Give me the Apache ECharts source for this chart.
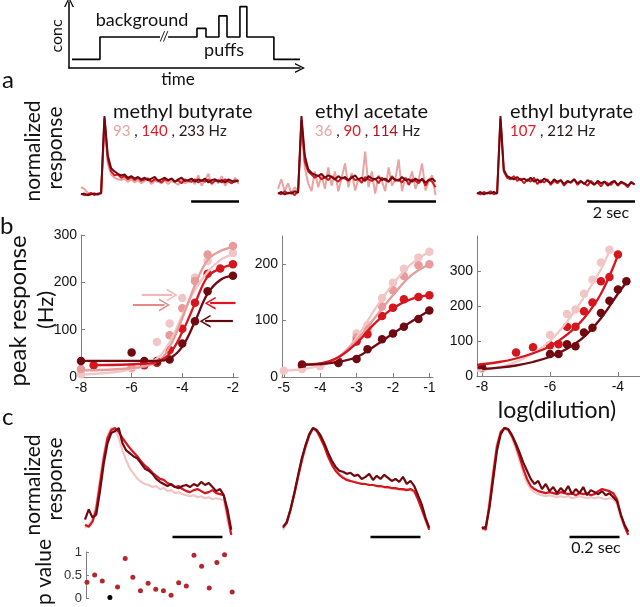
<!DOCTYPE html>
<html><head><meta charset="utf-8">
<script src="https://cdn.jsdelivr.net/npm/echarts@6/dist/echarts.min.js"></script>
<style>html,body{margin:0;padding:0;background:#fff}#c{width:640px;height:607px}</style>
</head><body><div id="c"></div>
<script>
// ---------- DATA ----------
// schematic (stimulus protocol)
const schemA_x = [1.3, 13.4, 13.4, 39.4];
const schemA_y = [0.13, 0.13, 0.47, 0.47];
const schemB_x = [42.9, 55.4, 55.4, 59.3, 59.3, 64.9, 64.9, 68.4, 68.4, 74, 74, 77, 77, 88.7, 88.7, 100];
const schemB_y = [0.47, 0.47, 0.6, 0.6, 0.47, 0.47, 0.79, 0.79, 0.47, 0.47, 0.93, 0.93, 0.47, 0.47, 0.13, 0.13];

// panel a: normalized responses (sample step 0.14 s)
const dtA = 0.14;
const a1_pale = [0.1,0.08,0.03,0.01,0.02,0,0.04,0.9,0.4,0.26,0.22,0.2,0.19,0.21,0.17,0.2,0.16,0.19,0.15,0.18,0.2,0.14,0.18,0.17,0.15,0.19,0.14,0.18,0.16,0.13,0.19,0.15,0.17,0.2,0.14,0.25,0.12,0.19,0.27,0.13,0.2,0.15,0.24,0.12,0.18,0.16,0.22,0.14];
const a1_red = [0.02,0,0.01,0.03,0,0.02,0.02,0.97,0.45,0.3,0.25,0.26,0.22,0.24,0.2,0.23,0.19,0.22,0.18,0.2,0.21,0.17,0.2,0.19,0.16,0.2,0.18,0.21,0.17,0.19,0.15,0.2,0.18,0.17,0.2,0.16,0.19,0.17,0.2,0.15,0.18,0.19,0.16,0.2,0.17,0.15,0.19,0.17];
const a1_dark = [0.01,0.02,0,0.01,0.02,0.01,0.03,1.0,0.5,0.34,0.3,0.27,0.25,0.26,0.22,0.24,0.21,0.23,0.2,0.22,0.19,0.21,0.23,0.18,0.2,0.22,0.19,0.21,0.17,0.2,0.22,0.18,0.19,0.21,0.17,0.2,0.18,0.21,0.16,0.19,0.2,0.17,0.19,0.16,0.2,0.18,0.17,0.19];
const a2_pale = [0.08,0.2,0.05,0.15,0.02,0.1,0.05,0.85,0.35,0.15,0.05,0.3,0.1,0.25,0.08,0.35,0.12,0.3,0.05,0.22,0.4,0.1,0.28,0.06,0.2,0.15,0.55,0.1,0.3,0.02,0.25,0.18,0.05,0.35,0.12,0.2,0.45,0.05,0.22,0.15,0.3,0.08,0.2,0.4,0.06,0.18,0.25,0];
const a2_red = [0.03,0.01,0.05,0.02,0.04,0,0.06,0.95,0.42,0.3,0.26,0.22,0.25,0.2,0.23,0.19,0.24,0.2,0.17,0.22,0.21,0.18,0.24,0.19,0.2,0.16,0.23,0.2,0.18,0.21,0.15,0.22,0.19,0.17,0.24,0.18,0.2,0.16,0.22,0.13,0.2,0.18,0.15,0.21,0.12,0.2,0.17,0.1];
const a2_dark = [0.02,0.04,0.01,0.03,0.02,0.05,0.03,1.0,0.5,0.33,0.28,0.26,0.24,0.27,0.22,0.25,0.23,0.2,0.24,0.21,0.23,0.19,0.22,0.25,0.2,0.22,0.18,0.24,0.21,0.2,0.23,0.19,0.21,0.17,0.22,0.2,0.18,0.23,0.19,0.2,0.17,0.21,0.18,0.2,0.16,0.19,0.21,0.17];
const a3_red = [0.03,0.01,0.04,0.02,0.05,0.01,0.03,0.96,0.3,0.22,0.2,0.24,0.18,0.21,0.15,0.2,0.17,0.22,0.14,0.19,0.16,0.2,0.13,0.18,0.15,0.19,0.12,0.17,0.16,0.2,0.13,0.17,0.15,0.12,0.18,0.14,0.16,0.11,0.17,0.15,0.13,0.18,0.12,0.16,0.14,0.1,0.17,0.13];
const a3_dark = [0.02,0.04,0.01,0.03,0.02,0.04,0.02,1.0,0.32,0.24,0.22,0.2,0.23,0.19,0.21,0.18,0.22,0.17,0.2,0.16,0.21,0.18,0.15,0.2,0.17,0.19,0.14,0.18,0.16,0.2,0.15,0.18,0.14,0.19,0.16,0.13,0.18,0.15,0.17,0.12,0.16,0.18,0.13,0.17,0.15,0.12,0.16,0.14];
const scaleBarA = [4.6, 6.6];   // 2 sec

// panel b: dose-response (x = log dilution, y = peak response Hz)
const b1_pale_x = [-8,-6,-5,-4.5,-4,-3.5,-3,-2];
const b1_pale_y = [6,18,74,113,167,210,245,262];
const b1_pink_x = [-8,-6,-5,-4.5,-4,-3.5,-3,-2];
const b1_pink_y = [17,20,30,88,145,203,259,277];
const b1_red_x = [-7.5,-5.5,-5,-4.5,-4,-3.5,-3,-2.5,-2];
const b1_red_y = [25,25,30,57,102,157,218,229,238];
const b1_dark_x = [-8,-6,-5.5,-5,-4.5,-4,-3.5,-3,-2];
const b1_dark_y = [34,52,34,34,37,71,118,181,214];
const b1fit_pale_x = [-8,-6,-5,-4.5,-4,-3.5,-3,-2.5,-2];
const b1fit_pale_y = [5,16,39,74,130,184,222,247,259];
const b1fit_pink_x = [-8,-6,-5,-4.5,-4,-3.5,-3,-2.5,-2];
const b1fit_pink_y = [14,19,32,64,124,194,247,266,275];
const b1fit_red_x = [-7.5,-5.5,-5,-4.5,-4,-3.5,-3,-2.5,-2];
const b1fit_red_y = [25,28,32,49,95,155,212,229,238];
const b1fit_dark_x = [-8,-6,-5,-4.5,-4,-3.5,-3,-2.5,-2];
const b1fit_dark_y = [34,34,34,39,64,117,176,205,214];

const b2_pale_x = [-5,-4.5,-4,-3,-2.7,-2.3,-2,-1.7,-1.3,-1];
const b2_pale_y = [11,14,19,77,92,140,167,192,212,222];
const b2_pink_x = [-3,-2.7,-2.3,-2,-1.7,-1.3,-1];
const b2_pink_y = [70,85,125,154,179,198,200];
const b2_red_x = [-4.5,-3.5,-3,-2.7,-2.3,-2,-1.7,-1.3,-1];
const b2_red_y = [20,28,63,76,108,123,138,142,145];
const b2_dark_x = [-4.5,-3.5,-3,-2.7,-2.3,-2,-1.7,-1.3,-1];
const b2_dark_y = [22,25,32,49,67,77,89,103,118];
const b2fit_pale_x = [-5,-4.5,-4,-3.5,-3,-2.5,-2,-1.5,-1];
const b2fit_pale_y = [11,14,20,35,70,120,165,200,222];
const b2fit_pink_x = [-4,-3.5,-3,-2.5,-2,-1.5,-1];
const b2fit_pink_y = [20,35,65,105,145,180,200];
const b2fit_red_x = [-4.5,-4,-3.5,-3,-2.5,-2,-1.5,-1];
const b2fit_red_y = [22,24,35,60,95,122,138,145];
const b2fit_dark_x = [-4.5,-4,-3.5,-3,-2.5,-2,-1.5,-1];
const b2fit_dark_y = [22,23,27,35,55,77,98,118];

const b3_pale_x = [-8,-6,-5.5,-5.25,-5,-4.75,-4.5,-4.25];
const b3_pale_y = [20,117,177,190,235,275,324,361];
const b3_red_x = [-7,-6.5,-6,-5.75,-5.5,-5.25,-5,-4.75,-4.5,-4.25,-4];
const b3_red_y = [67,82,88,91,141,141,185,210,271,283,347];
const b3_dark_x = [-8,-6,-5.75,-5.5,-5.25,-5,-4.75,-4.5,-4.25,-4,-3.75];
const b3_dark_y = [25,63,63,91,85,124,138,180,215,247,271];
const b3fit_pale_x = [-8.15,-7.5,-7,-6.5,-6,-5.5,-5,-4.5,-4.25];
const b3fit_pale_y = [15,25,40,65,100,155,225,305,358];
const b3fit_red_x = [-8.15,-7.5,-7,-6.5,-6,-5.5,-5,-4.5,-4];
const b3fit_red_y = [32,40,50,65,85,118,165,235,345];
const b3fit_dark_x = [-8,-7.5,-7,-6.5,-6,-5.5,-5,-4.5,-4,-3.75];
const b3fit_dark_y = [20,24,30,40,55,78,112,165,235,268];

// arrows in panel b1 (log dilution, Hz)
const arrowPale = [-5.6, -4.4, 173];
const arrowPink = [-5.95, -4.7, 152];
const arrowRed = [-1.9, -2.9, 156];
const arrowDark = [-2.0, -3.1, 118];

// panel c: normalized response shapes (sample step 0.015 s)
const dtC = 0.015;
const c1_pale = [0.02,0.05,0.1,0.25,0.5,0.75,0.92,1.0,0.98,0.9,0.78,0.68,0.6,0.55,0.5,0.47,0.45,0.44,0.42,0.43,0.4,0.41,0.38,0.39,0.36,0.37,0.35,0.34,0.33,0.34,0.32,0.33,0.31,0.32,0.3,0.31,0.3,0.29,0.1,-0.05];
const c1_red = [0.05,0.03,0.08,0.2,0.45,0.7,0.9,0.98,1.0,0.96,0.9,0.85,0.8,0.76,0.72,0.67,0.63,0.6,0.56,0.53,0.5,0.49,0.46,0.44,0.42,0.43,0.4,0.38,0.37,0.39,0.4,0.38,0.36,0.37,0.39,0.36,0.35,0.34,0.15,-0.05];
const c1_dark = [0.1,0.2,0.12,0.15,0.38,0.65,0.85,0.95,0.97,1.0,0.85,0.78,0.75,0.72,0.7,0.65,0.6,0.58,0.55,0.5,0.47,0.45,0.43,0.45,0.42,0.41,0.43,0.44,0.42,0.45,0.43,0.47,0.44,0.46,0.42,0.38,0.4,0.34,0.2,0.0];
const c2_pale = [0.0,0.06,0.18,0.34,0.5,0.67,0.8,0.92,0.99,0.98,0.92,0.84,0.75,0.66,0.6,0.55,0.52,0.5,0.48,0.47,0.46,0.46,0.45,0.44,0.44,0.43,0.42,0.42,0.41,0.41,0.4,0.4,0.39,0.4,0.39,0.37,0.3,0.21,0.1,0.02];
const c2_red = [0.02,0.08,0.2,0.35,0.52,0.68,0.82,0.93,1.0,0.97,0.9,0.82,0.72,0.64,0.58,0.54,0.51,0.49,0.48,0.47,0.46,0.45,0.45,0.44,0.44,0.43,0.43,0.42,0.42,0.41,0.41,0.4,0.4,0.39,0.4,0.38,0.3,0.2,0.1,0.0];
const c2_dark = [0.03,0.07,0.2,0.36,0.53,0.7,0.83,0.94,1.0,0.98,0.93,0.85,0.76,0.68,0.62,0.58,0.57,0.55,0.56,0.53,0.54,0.5,0.52,0.55,0.49,0.53,0.5,0.54,0.51,0.48,0.5,0.47,0.52,0.45,0.48,0.43,0.34,0.25,0.12,0.02];
const c3_pale = [0.0,0.02,0.3,0.6,0.85,0.97,1.0,0.98,0.9,0.8,0.68,0.56,0.46,0.4,0.37,0.35,0.34,0.33,0.34,0.33,0.32,0.33,0.32,0.33,0.31,0.32,0.33,0.32,0.31,0.32,0.31,0.32,0.31,0.3,0.31,0.3,0.25,0.12,0.02,-0.05];
const c3_red = [0.03,0.0,0.25,0.55,0.82,0.96,1.0,0.98,0.92,0.83,0.72,0.6,0.5,0.43,0.4,0.38,0.37,0.36,0.37,0.36,0.35,0.37,0.36,0.35,0.36,0.34,0.36,0.35,0.36,0.34,0.35,0.38,0.4,0.39,0.38,0.36,0.3,0.15,0.04,-0.05];
const c3_dark = [0.01,0.03,0.22,0.5,0.78,0.94,1.0,0.99,0.93,0.85,0.76,0.66,0.58,0.5,0.45,0.48,0.4,0.45,0.38,0.42,0.36,0.41,0.37,0.43,0.35,0.4,0.36,0.42,0.34,0.39,0.37,0.35,0.38,0.34,0.36,0.32,0.28,0.15,0.05,-0.02];
const scaleBarC = [0.35, 0.55]; // 0.2 sec

// p values
const pValues = [0.34,0.5,0.37,0.01,0.24,0.86,0.45,0.16,0.32,0.19,0.16,0.06,0.33,0.26,0.93,0.69,0.22,0.77,0.94,0.13];

// ---------- STYLE ----------
const PALE='#f2c6c6', PINK='#e79b9b', RED='#d6161e', DARK='#700a10', APALE='#e9a3a3';
const TXT='Lato', NUM='Liberation Sans';
const CHEV='path://M5,0 L10,10 L8.6,10 L5,2.6 L1.4,10 L0,10 Z';

const grids=[], xAxes=[], yAxes=[], series=[];
function addGrid(g, xa, ya){ const n=grids.length; grids.push(g); xAxes.push(Object.assign({gridIndex:n},xa)); yAxes.push(Object.assign({gridIndex:n},ya)); return n; }
const hid=(min,max)=>({type:'value',show:false,min,max});
const zip=(xs,ys)=>xs.map((x,i)=>[x,ys[i]]);
const tser=(arr,dt)=>arr.map((v,i)=>[+(i*dt).toFixed(4),v]);

// schematic
const g0 = addGrid({left:69,top:2,width:231,height:66},
  {type:'value',min:0,max:100,axisLine:{show:true,onZero:false,symbol:['none',CHEV],symbolSize:[10,10],lineStyle:{color:'#000',width:1.5}},axisTick:{show:false},axisLabel:{show:false},splitLine:{show:false}},
  {type:'value',min:0,max:1,axisLine:{show:true,onZero:false,symbol:['none',CHEV],symbolSize:[10,10],lineStyle:{color:'#000',width:1.5}},axisTick:{show:false},axisLabel:{show:false},splitLine:{show:false}});
[[schemA_x,schemA_y],[schemB_x,schemB_y]].forEach(([xs,ys])=>series.push({type:'line',xAxisIndex:g0,yAxisIndex:g0,data:zip(xs,ys),showSymbol:false,lineStyle:{color:'#000',width:1.6},silent:true}));

// panel a
const aLefts=[81,278,477];
const aTraces=[[[a1_pale,APALE],[a1_red,RED],[a1_dark,DARK]],[[a2_pale,APALE],[a2_red,RED],[a2_dark,DARK]],[[a3_red,RED],[a3_dark,DARK]]];
aLefts.forEach((L,k)=>{
  const g=addGrid({left:L,top:116,width:158,height:95},hid(0,6.6),hid(-0.2,1.0));
  aTraces[k].forEach(([arr,col])=>series.push({type:'line',xAxisIndex:g,yAxisIndex:g,data:tser(arr,dtA),showSymbol:false,lineStyle:{color:col,width:2},silent:true}));
  series.push({type:'line',xAxisIndex:g,yAxisIndex:g,data:[[scaleBarA[0],-0.08],[scaleBarA[1],-0.08]],showSymbol:false,lineStyle:{color:'#000',width:2.5},silent:true});
});

// panel b
function bAxes(xmin,xmax,xt,ymin,ymax,yt){
  const ax={color:'#7f7f7f',width:1};
  return [
    {type:'value',min:xmin,max:xmax,axisLine:{show:true,onZero:false,lineStyle:ax},axisTick:{show:true,inside:true,length:4,customValues:xt,lineStyle:ax},axisLabel:{customValues:xt,fontFamily:NUM,fontSize:14,color:'#111',margin:4},splitLine:{show:false}},
    {type:'value',min:ymin,max:ymax,axisLine:{show:true,onZero:false,lineStyle:ax},axisTick:{show:true,inside:true,length:4,customValues:yt,lineStyle:ax},axisLabel:{customValues:yt,fontFamily:NUM,fontSize:14,color:'#111',margin:4},splitLine:{show:false}}
  ];
}
function bCurves(g,list){
  list.forEach(([fx,fy,px,py,col])=>{
    series.push({type:'line',xAxisIndex:g,yAxisIndex:g,data:zip(fx,fy),smooth:0.4,showSymbol:false,lineStyle:{color:col,width:2.3},silent:true});
  });
  list.forEach(([fx,fy,px,py,col])=>{
    series.push({type:'scatter',xAxisIndex:g,yAxisIndex:g,data:zip(px,py),symbolSize:8.5,itemStyle:{color:col,opacity:1},silent:true});
  });
}
let ax=bAxes(-8,-1.8,[-8,-6,-4,-2],0,300,[0,100,200,300]);
const gb1=addGrid({left:81,top:235,width:157,height:142},ax[0],ax[1]);
bCurves(gb1,[[b1fit_pale_x,b1fit_pale_y,b1_pale_x,b1_pale_y,PALE],[b1fit_pink_x,b1fit_pink_y,b1_pink_x,b1_pink_y,PINK],[b1fit_red_x,b1fit_red_y,b1_red_x,b1_red_y,RED],[b1fit_dark_x,b1fit_dark_y,b1_dark_x,b1_dark_y,DARK]]);
function arrowML(a,col){ return [{coord:[a[0],a[2]],lineStyle:{color:col}},{coord:[a[1],a[2]]}]; }
series.push({type:'line',xAxisIndex:gb1,yAxisIndex:gb1,data:[],silent:true,
  markLine:{silent:true,symbol:['none',CHEV],symbolSize:[13,11],label:{show:false},lineStyle:{width:2.2,type:'solid'},animation:false,
    data:[arrowML(arrowPale,'#f2b8b8'),arrowML(arrowPink,'#e38a8a'),arrowML(arrowRed,'#e3141e'),arrowML(arrowDark,'#5e0a0e')]}});
ax=bAxes(-5.05,-0.9,[-5,-4,-3,-2,-1],0,250,[0,100,200]);
const gb2=addGrid({left:282,top:236,width:151,height:141},ax[0],ax[1]);
bCurves(gb2,[[b2fit_pale_x,b2fit_pale_y,b2_pale_x,b2_pale_y,PALE],[b2fit_pink_x,b2fit_pink_y,b2_pink_x,b2_pink_y,PINK],[b2fit_red_x,b2fit_red_y,b2_red_x,b2_red_y,RED],[b2fit_dark_x,b2fit_dark_y,b2_dark_x,b2_dark_y,DARK]]);
ax=bAxes(-8.15,-3.35,[-8,-6,-4],0,400,[0,100,200,300]);
const gb3=addGrid({left:477,top:236,width:163,height:140},ax[0],ax[1]);
bCurves(gb3,[[b3fit_pale_x,b3fit_pale_y,b3_pale_x,b3_pale_y,PALE],[b3fit_red_x,b3fit_red_y,b3_red_x,b3_red_y,RED],[b3fit_dark_x,b3fit_dark_y,b3_dark_x,b3_dark_y,DARK]]);

// panel c
const cLefts=[85,283,482];
const cTraces=[[[c1_pale,PALE],[c1_red,RED],[c1_dark,DARK]],[[c2_pale,PALE],[c2_red,RED],[c2_dark,DARK]],[[c3_pale,PALE],[c3_red,RED],[c3_dark,DARK]]];
cLefts.forEach((L,k)=>{
  const g=addGrid({left:L,top:428,width:150,height:112},hid(0,0.6),hid(-0.1,1.0));
  cTraces[k].forEach(([arr,col])=>series.push({type:'line',xAxisIndex:g,yAxisIndex:g,data:tser(arr,dtC),showSymbol:false,lineStyle:{color:col,width:2.2},silent:true}));
  series.push({type:'line',xAxisIndex:g,yAxisIndex:g,data:[[scaleBarC[0],-0.07],[scaleBarC[1],-0.07]],showSymbol:false,lineStyle:{color:'#000',width:2.5},silent:true});
});

// p values
const gp=addGrid({left:86,top:552,width:150,height:46},
  {type:'value',min:0.87,max:20.5,show:false},
  {type:'value',min:0,max:1,axisLine:{show:true,onZero:false,lineStyle:{color:'#7f7f7f'}},axisTick:{show:true,inside:true,length:3,customValues:[0,0.5,1],lineStyle:{color:'#7f7f7f'}},axisLabel:{customValues:[0,0.5,1],fontFamily:NUM,fontSize:13,color:'#333',margin:4},splitLine:{show:false}});
series.push({type:'scatter',xAxisIndex:gp,yAxisIndex:gp,data:pValues.map((p,i)=>[i+1,p]),symbolSize:5,itemStyle:{opacity:1,color:(pr)=>pr.value[1]<0.05?'#000':'#b3282c'},silent:true});

// ---------- TEXT ----------
const T=(x,y,text,size,opt={})=>Object.assign({type:'text',x,y,style:Object.assign({text,fontFamily:TXT,fontSize:size,fill:'#111',textAlign:'left',textVerticalAlign:'middle'},opt.style||{})},opt.el||{});
const graphic=[
  T(2,80,'a',24),
  T(0,226,'b',24),
  T(2,417,'c',24),
  T(57,36,'conc',16,{style:{textAlign:'center'},el:{rotation:Math.PI/2}}),
  T(178,80,'time',17,{style:{textAlign:'center'}}),
  T(142,20,'background',18,{style:{textAlign:'center'}}),
  T(224,50,'puffs',18,{style:{textAlign:'center'}}),
  T(164,36,'//',14,{style:{textAlign:'center',fontStyle:'normal'}}),
  T(33,151,'normalized',21,{style:{textAlign:'center'},el:{rotation:Math.PI/2}}),
  T(55,148,'response',21,{style:{textAlign:'center'},el:{rotation:Math.PI/2}}),
  T(18,311,'peak response',24,{style:{textAlign:'center'},el:{rotation:Math.PI/2}}),
  T(46,310,'(Hz)',22,{style:{textAlign:'center'},el:{rotation:Math.PI/2}}),
  T(33,485,'normalized',21,{style:{textAlign:'center'},el:{rotation:Math.PI/2}}),
  T(55,479,'response',21,{style:{textAlign:'center'},el:{rotation:Math.PI/2}}),
  T(44,572,'p value',21,{style:{textAlign:'center'},el:{rotation:Math.PI/2}}),
  T(113,112,'methyl butyrate',20),
  T(315,112,'ethyl acetate',20),
  T(510,112,'ethyl butyrate',20),
  {type:'text',x:113,y:131,style:{text:'{p|93} , {r|140} , {k|233} Hz',fontFamily:TXT,fontSize:15,fill:'#222',textVerticalAlign:'middle',rich:{p:{fill:APALE,fontFamily:TXT,fontSize:15},r:{fill:'#e01a26',fontFamily:TXT,fontSize:15},k:{fill:'#2a1414',fontFamily:TXT,fontSize:15}}}},
  {type:'text',x:315,y:131,style:{text:'{p|36} , {r|90} , {d|114} Hz',fontFamily:TXT,fontSize:15,fill:'#222',textVerticalAlign:'middle',rich:{p:{fill:APALE,fontFamily:TXT,fontSize:15},r:{fill:'#e01a26',fontFamily:TXT,fontSize:15},d:{fill:'#b0101e',fontFamily:TXT,fontSize:15}}}},
  {type:'text',x:510,y:131,style:{text:'{r|107} , {k|212} Hz',fontFamily:TXT,fontSize:15,fill:'#222',textVerticalAlign:'middle',rich:{r:{fill:'#e01a26',fontFamily:TXT,fontSize:15},k:{fill:'#2a1414',fontFamily:TXT,fontSize:15}}}},
  T(611,213,'2 sec',16,{style:{textAlign:'center'}}),
  T(557,411,'log(dilution)',23,{style:{textAlign:'center'}}),
  T(596,548,'0.2 sec',16,{style:{textAlign:'center'}})
];

const chart=echarts.init(document.getElementById('c'),null,{renderer:'canvas'});
chart.setOption({animation:false,backgroundColor:'#fff',grid:grids,xAxis:xAxes,yAxis:yAxes,series,graphic});
</script></body></html>
